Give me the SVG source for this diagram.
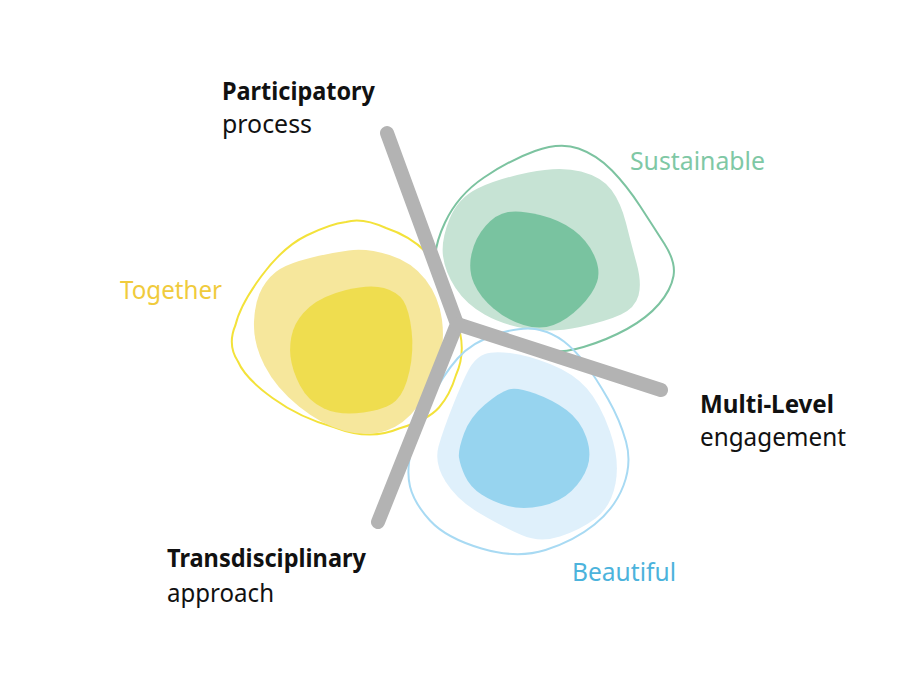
<svg xmlns="http://www.w3.org/2000/svg" width="919" height="681" viewBox="0 0 919 681">
<style>
text{font-family:"Noto Sans","Open Sans","Liberation Sans",sans-serif;font-size:24.5px}
.b{font-weight:700;fill:#111}
.r{fill:#111}
.ol{fill:none;stroke-width:2}
.bar{fill:none;stroke:#b3b3b3;stroke-width:14;stroke-linecap:round;stroke-linejoin:miter}
</style>
<rect width="919" height="681" fill="#fff"/>
<g id="together">
<path class="ol" stroke="#f3e23a" d="M235.5,325 Q240,305 261.5,276 Q283,247 306.5,235.5 Q330,224 346,222 Q362,217 386,228 Q410,236 426,252 Q442,268 450,289 Q458,310 460,332.5 Q465,355 456,375 Q450,395 439,407.5 Q428,420 399,428.5 Q370,441 335,427.5 Q300,418 272.5,398 Q245,378 238,361.5 Q227,345 235.5,325 Z"/>
<path fill="#f6e79c" d="M310,258 Q330,253 348.5,250.5 Q367,248 389.5,255 Q412,262 425.5,279.5 Q439,297 442,320 Q445,343 438.5,365 Q432,387 418,406 Q404,425 385.5,431 Q367,437 344.5,431 Q322,425 299,406.5 Q276,388 264.5,365.5 Q253,343 254,321.5 Q255,300 262.5,287.5 Q270,275 280,269 Q290,263 310,258 Z"/>
<path fill="#efdd4f" d="M293,330.5 Q297,318 309.5,307 Q322,296 346,290 Q370,284 384,288 Q398,292 403.5,301 Q409,310 411.5,330 Q414,350 409.5,371 Q405,392 396,400.5 Q387,409 363.5,412.5 Q340,416 324,408.5 Q308,401 300,385.5 Q292,370 290.5,356.5 Q289,343 293,330.5 Z"/>
<text x="120" y="299" fill="#f0cb3c" textLength="102" lengthAdjust="spacingAndGlyphs">Together</text>
</g>
<g id="sustainable">
<path class="ol" stroke="#7cc3a0" d="M578.5,148.5 Q597,155 612,170.5 Q627,186 640,206 Q653,226 664.5,244 Q676,262 673.5,276 Q671,290 659,304 Q647,318 627,329 Q607,340 583.5,347 Q560,354 535,351 Q510,348 485,336.5 Q460,325 450,307.5 Q440,290 436,270 Q432,250 445,222.5 Q458,195 484,177.5 Q510,160 535,151 Q560,142 578.5,148.5 Z"/>
<path fill="#c6e3d4" d="M449.5,219 Q458,198 477.5,188.5 Q497,179 528.5,172.5 Q560,166 581,171.5 Q602,177 611.5,190 Q621,203 626,223 Q631,243 636.5,263 Q642,283 638.5,295.5 Q635,308 621,314.5 Q607,321 580,327 Q553,333 528,329 Q503,325 484.5,314.5 Q466,304 455.5,288 Q445,272 443,256 Q441,240 449.5,219 Z"/>
<path fill="#79c3a0" d="M471.5,254 Q475,238 485.5,226 Q496,214 508,212 Q520,210 540,215 Q560,220 573.5,230 Q587,240 594,255 Q601,270 597,282 Q593,294 580,307 Q567,320 553.5,325 Q540,330 523.5,325 Q507,320 493.5,308.5 Q480,297 474,283.5 Q468,270 471.5,254 Z"/>
<text x="630" y="170" fill="#7fc8a5" textLength="135" lengthAdjust="spacingAndGlyphs">Sustainable</text>
</g>
<g id="beautiful">
<path class="ol" stroke="#a8daf3" d="M538,329.5 Q553,333 564,341.5 Q575,350 585.5,364 Q596,378 608,399 Q620,420 626,441.5 Q632,463 623.5,485.5 Q615,508 594.5,524.5 Q574,541 545.5,550 Q517,559 481.5,548.5 Q446,538 430,520.5 Q414,503 410,486.5 Q406,470 412,447.5 Q418,425 430.5,400 Q443,375 457.5,358.5 Q472,342 497.5,334 Q523,326 538,329.5 Z"/>
<path fill="#dff0fb" d="M510,353 Q527,355 550,364 Q573,373 586.5,388 Q600,403 610,431.5 Q620,460 615.5,483.5 Q611,507 595.5,518.5 Q580,530 560,536.5 Q540,543 521.5,535 Q503,527 480,513.5 Q457,500 445.5,481.5 Q434,463 438.5,446.5 Q443,430 454.5,401.5 Q466,373 471.5,365 Q477,357 485,354 Q493,351 510,353 Z"/>
<path fill="#97d4ef" d="M464,433.5 Q470,417 485,404.5 Q500,392 508.5,389.5 Q517,387 535,393.5 Q553,400 566.5,410 Q580,420 586,436.5 Q592,453 587.5,466.5 Q583,480 571.5,491 Q560,502 541.5,506 Q523,510 508,506 Q493,502 481.5,494.5 Q470,487 465,476 Q460,465 459,457.5 Q458,450 464,433.5 Z"/>
<text x="572" y="581" fill="#4cb3dc" textLength="104" lengthAdjust="spacingAndGlyphs">Beautiful</text>
</g>
<g id="connectors">
<path class="bar" d="M387,133 L457,324 L378,522"/>
<path class="bar" d="M457,324 L661,390"/>
</g>
<g id="participatory">
<text class="b" x="222" y="99.5" textLength="153" lengthAdjust="spacingAndGlyphs">Participatory</text>
<text class="r" x="222" y="133" textLength="90" lengthAdjust="spacingAndGlyphs">process</text>
</g>
<g id="multilevel">
<text class="b" x="700" y="412.5" textLength="134" lengthAdjust="spacingAndGlyphs">Multi-Level</text>
<text class="r" x="700" y="446" textLength="146" lengthAdjust="spacingAndGlyphs">engagement</text>
</g>
<g id="transdisciplinary">
<text class="b" x="167" y="567" textLength="199" lengthAdjust="spacingAndGlyphs">Transdisciplinary</text>
<text class="r" x="167" y="601.5" textLength="107" lengthAdjust="spacingAndGlyphs">approach</text>
</g>
</svg>
